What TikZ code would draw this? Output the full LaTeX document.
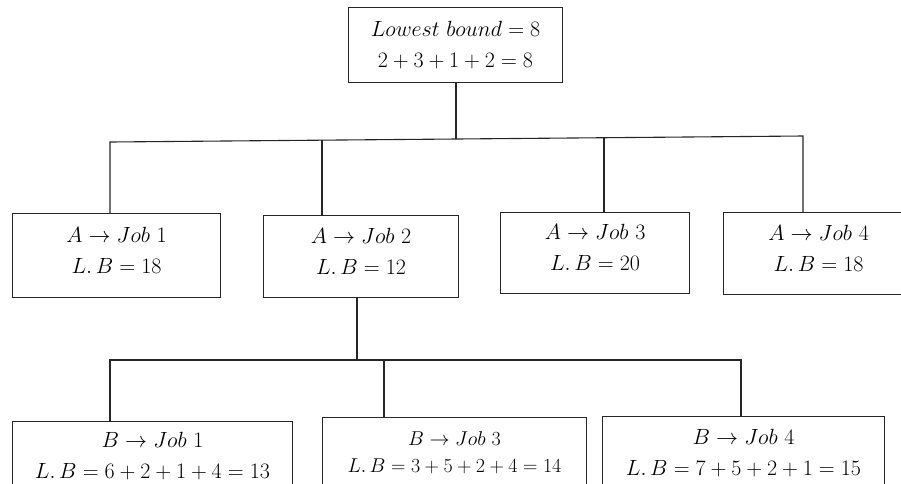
\RequirePackage{fix-cm}
\documentclass[tikz,border=0pt]{standalone}
\usepackage{amsmath}
\newcommand{\boxpad}{\rule[-11pt]{0pt}{0pt}}
\begin{document}
\begin{tikzpicture}[x=1pt,y=-1pt,
  line/.style={line width=1.1pt, draw=black!85},
  box/.style={line, rectangle, anchor=north west, align=center, inner sep=0pt,
              font=\fontsize{22}{31}\selectfont},
  smallbox/.style={box, font=\fontsize{20}{27}\selectfont}]
\useasboundingbox (0,0) rectangle (901,483);
\clip (0,0) rectangle (901,483);
% top node
\node[box, minimum width=214pt, minimum height=75pt] (T) at (348,7)
  {$Lowest\ bound=8$\\$2+3+1+2=8$};
% first level
\node[box, minimum width=208pt, minimum height=84pt] (A1) at (12,213)
  {$A\rightarrow Job\ 1$\\$L.\,B=18$\boxpad};
\node[box, minimum width=195pt, minimum height=82pt] (A2) at (263,215)
  {$A\rightarrow Job\ 2$\\$L.\,B=12$\boxpad};
\node[box, minimum width=189pt, minimum height=81pt] (A3) at (500,212)
  {$A\rightarrow Job\ 3$\\$L.\,B=20$\boxpad};
\node[box, minimum width=190pt, minimum height=82pt] (A4) at (723,212)
  {$A\rightarrow Job\ 4$\\$L.\,B=18$\boxpad};
% second level
\node[box, minimum width=280pt, minimum height=69pt] (B1) at (12,421)
  {$B\rightarrow Job\ 1$\\$L.\,B=6+2+1+4=13$};
\node[smallbox, minimum width=264pt, minimum height=70pt] (B3) at (322,417)
  {$B\rightarrow Job\ 3$\\$L.\,B=3+5+2+4=14$};
\node[box, minimum width=282pt, minimum height=72pt] (B4) at (602,416)
  {$B\rightarrow Job\ 4$\\$L.\,B=7+5+2+1=15$};
% first bus
\coordinate (b1) at (110,142);
\coordinate (b2) at (322,140.2);
\coordinate (bt) at (456,139.4);
\coordinate (b3) at (604,137.6);
\coordinate (b4) at (803,136);
\draw[line] (T.south -| bt) -- (bt);
\draw[line] (b1 |- A1.north) -- (b1) -- (b4) -- (b4 |- A4.north);
\draw[line] (b2) -- (b2 |- A2.north);
\draw[line] (b3) -- (b3 |- A3.north);
% second bus
\coordinate (c1) at (110,360);
\coordinate (c0) at (357,360);
\coordinate (c3) at (384,360);
\coordinate (c4) at (741,360);
\draw[line] (c0 |- A2.south) -- (c0);
\draw[line] (c1 |- B1.north) -- (c1) -- (c4) -- (c4 |- B4.north);
\draw[line] (c3) -- (c3 |- B3.north);
\end{tikzpicture}
\end{document}
